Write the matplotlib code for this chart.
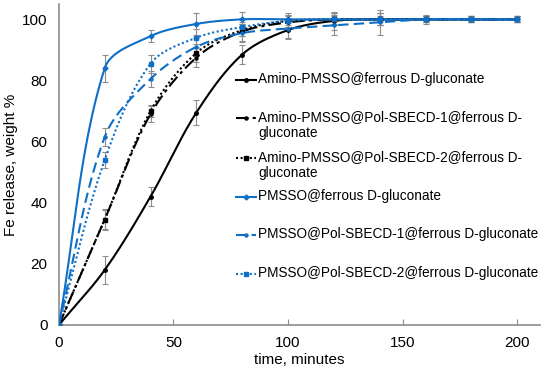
import numpy as np
import matplotlib
matplotlib.use("Agg")
import matplotlib.pyplot as plt

plt.rcParams['font.family'] = ['Liberation Sans', 'DejaVu Sans']

# tiempos de muestreo (min)
time = [0, 20, 40, 60, 80, 100, 120, 140, 160, 180, 200]

# liberacion de Fe, % en peso
amino = [0, 18, 42, 69.5, 88.5, 96.5, 99.5, 100, 100, 100, 100]
amino_pol1 = [0, 34.5, 69, 87.5, 96, 99, 100, 100, 100, 100, 100]
amino_pol2 = [0, 34.5, 70, 89, 96.5, 99.5, 100, 100, 100, 100, 100]
pmsso = [0, 84, 94.5, 98.5, 100, 100, 100, 100, 100, 100, 100]
pmsso_pol1 = [0, 61.5, 80.5, 91, 95.5, 97, 98, 99, 100, 100, 100]
pmsso_pol2 = [0, 54, 85.5, 94, 97.5, 99.5, 100, 100, 100, 100, 100]

# barras de error
err_amino = [0, 4.5, 3, 4, 3, 3, 3, 2, 1, 1, 1]
err_amino_pol1 = [0, 3.5, 2.5, 3, 3, 2, 2, 2, 1, 1, 1]
err_amino_pol2 = [0, 3, 2, 3, 2, 2, 2, 2, 1, 1, 1]
err_pmsso = [0, 4.5, 2, 3.5, 2.5, 2, 1.5, 1, 1, 1, 1]
err_pmsso_pol1 = [0, 3, 2.5, 3, 3, 3, 3, 4, 1.5, 1, 1]
err_pmsso_pol2 = [0, 2.5, 3, 3, 3, 2, 2, 2, 1, 1, 1]

labels = ['Amino-PMSSO@ferrous D-gluconate',
          'Amino-PMSSO@Pol-SBECD-1@ferrous D-\ngluconate',
          'Amino-PMSSO@Pol-SBECD-2@ferrous D-\ngluconate',
          'PMSSO@ferrous D-gluconate',
          'PMSSO@Pol-SBECD-1@ferrous D-gluconate',
          'PMSSO@Pol-SBECD-2@ferrous D-gluconate']

azul = '#0F6FC6'
series = [
    (amino, err_amino, 'black', '-', 'o', 2.5),
    (amino_pol1, err_amino_pol1, 'black', (0, (6, 2, 1.5, 2)), 'o', 2.2),
    (amino_pol2, err_amino_pol2, 'black', (0, (1, 1.2)), 's', 3.5),
    (pmsso, err_pmsso, azul, '-', 'D', 2.5),
    (pmsso_pol1, err_pmsso_pol1, azul, (0, (5, 2.5)), 'o', 2.2),
    (pmsso_pol2, err_pmsso_pol2, azul, (0, (1, 1.2)), 's', 3.5),
]

# escala aproximada en pixeles por unidad (para el suavizado)
SX = 481 / 210
SY = 321 / 105


# suavizado tipo Excel (Bezier con tangentes escaladas por longitud de cuerda)
def suavizar(x, y, n=30):
    p = np.column_stack([np.asarray(x, float) * SX, np.asarray(y, float) * SY])
    p = np.vstack([p[0], p, p[-1]])
    t = np.linspace(0, 1, n)[:, None]
    out = []
    for i in range(1, len(p) - 2):
        p0, p1 = p[i], p[i + 1]
        d_prev = np.linalg.norm(p[i] - p[i - 1])
        d_cur = np.linalg.norm(p1 - p0)
        d_next = np.linalg.norm(p[i + 2] - p1)
        tan0 = (p1 - p[i - 1]) / 6
        tan1 = (p[i + 2] - p0) / 6
        f0 = 2 * d_cur / (d_prev + d_cur) if d_prev + d_cur > 0 else 0
        f1 = 2 * d_cur / (d_cur + d_next) if d_cur + d_next > 0 else 0
        c1 = p0 + tan0 * f0
        c2 = p1 - tan1 * f1
        b = (1 - t) ** 3 * p0 + 3 * (1 - t) ** 2 * t * c1 + 3 * (1 - t) * t ** 2 * c2 + t ** 3 * p1
        out.append(b)
    out = np.vstack(out)
    return out[:, 0] / SX, out[:, 1] / SY


fig = plt.figure(figsize=(5.5, 3.71), dpi=100)
ax = fig.add_axes([0.107, 0.124, 0.875, 0.865])

for y, e, c, ls, mk, ms in series:
    ax.errorbar(time, y, yerr=e, fmt='none', ecolor='#8c8c8c', elinewidth=0.8,
                capsize=2, capthick=0.8, zorder=2)
    sx, sy = suavizar(time, y)
    ax.plot(sx, sy, color=c, linestyle=ls, linewidth=1.5, zorder=3)
    ax.plot(time, y, linestyle='none', marker=mk, markersize=ms, color=c, zorder=4)

ax.set_xlim(0, 210)
ax.set_ylim(0, 105)
ax.set_xticks([0, 50, 100, 150, 200])
ax.set_yticks([0, 20, 40, 60, 80, 100])
ax.tick_params(axis='x', direction='in', length=4, color='#8c8c8c', labelsize=11, pad=8)
ax.tick_params(axis='y', length=0, labelsize=11, pad=8)
for s in ['top', 'right']:
    ax.spines[s].set_visible(False)
for s in ['left', 'bottom']:
    ax.spines[s].set_color('#8c8c8c')
    ax.spines[s].set_linewidth(1.2)

ax.set_xlabel('time, minutes', fontsize=11, labelpad=2)
ax.set_ylabel('Fe release, weight %', fontsize=11, labelpad=3)

# leyenda manual
ley_y = [0.763, 0.645, 0.520, 0.399, 0.280, 0.159]
for (y, e, c, ls, mk, ms), lab, yy in zip(series, labels, ley_y):
    ax.plot([0.368, 0.410], [yy, yy], transform=ax.transAxes, color=c,
            linestyle=ls, linewidth=1.5, clip_on=False)
    ax.plot([0.389], [yy], transform=ax.transAxes, color=c, marker=mk,
            markersize=ms, clip_on=False)
    ax.text(0.414, yy + 0.024, lab, transform=ax.transAxes, fontsize=9.8,
            va='top', ha='left', linespacing=1.15)

fig.savefig('out.png', dpi=100)
